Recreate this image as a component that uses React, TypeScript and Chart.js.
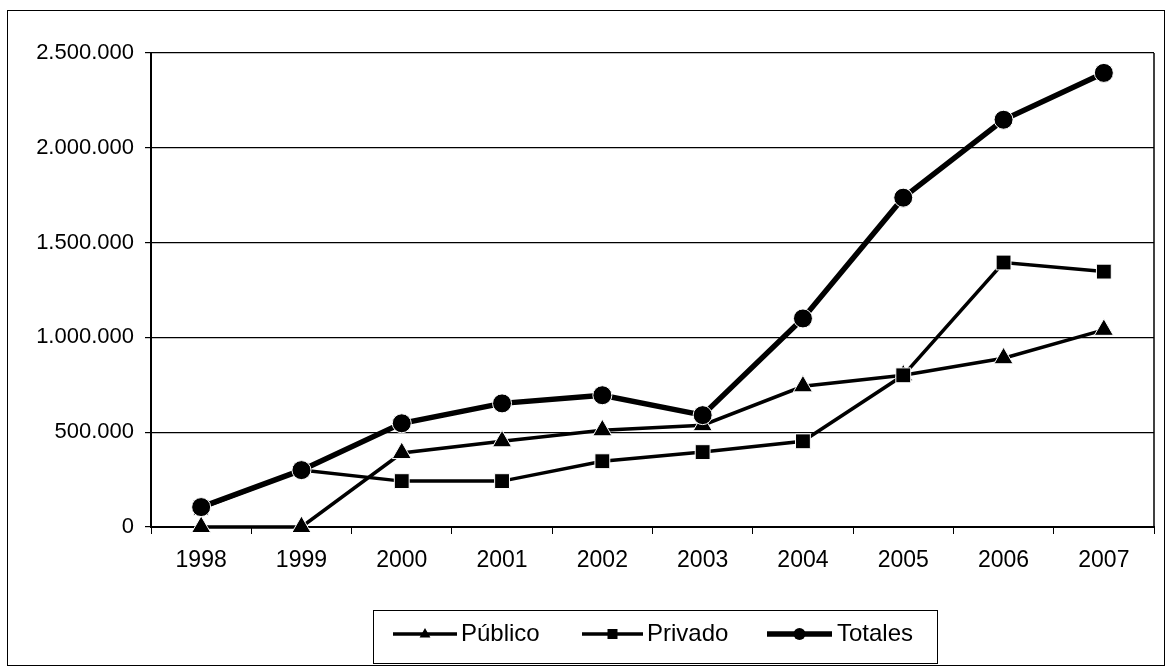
import React, { useEffect, useRef } from "react";
import { Chart, registerables } from "chart.js";

Chart.register(...registerables);

const years = ["1998", "1999", "2000", "2001", "2002", "2003", "2004", "2005", "2006", "2007"];
const publico = [0, 0, 390000, 452000, 510000, 537000, 742000, 800000, 890000, 1040000];
const privado = [100000, 300000, 242000, 242000, 347000, 395000, 452000, 800000, 1395000, 1347000];
const totales = [105000, 300000, 547000, 652000, 695000, 590000, 1100000, 1737000, 2148000, 2395000];
const legendLabels = ["Público", "Privado", "Totales"];

const FONT = "'Liberation Sans', Arial, sans-serif";

const fmt = (v: number) => String(Math.round(v)).replace(/\B(?=(\d{3})+(?!\d))/g, ".");

function marker(ctx: CanvasRenderingContext2D, style: string, x: number, y: number, s: number) {
  ctx.beginPath();
  if (style === "triangle") {
    ctx.moveTo(x, y - s);
    ctx.lineTo(x + s * 0.9, y + s * 0.6);
    ctx.lineTo(x - s * 0.9, y + s * 0.6);
    ctx.closePath();
  } else if (style === "rect") {
    ctx.rect(x - s, y - s, 2 * s, 2 * s);
  } else {
    ctx.arc(x, y, s, 0, Math.PI * 2);
  }
  ctx.fill();
}

const framePlugin = {
  id: "frame",
  beforeDraw(chart: any) {
    const ctx = chart.ctx;
    ctx.save();
    ctx.fillStyle = "#fff";
    ctx.fillRect(0, 0, chart.width, chart.height);
    ctx.strokeStyle = "#000";
    ctx.lineWidth = 1;
    ctx.strokeRect(7.5, 10.5, chart.width - 9, chart.height - 12);
    ctx.restore();
  },
  afterDraw(chart: any) {
    const ctx = chart.ctx;
    const a = chart.chartArea;
    ctx.save();
    ctx.strokeStyle = "#000";
    ctx.lineWidth = 1.5;
    ctx.beginPath();
    ctx.moveTo(a.right, a.top);
    ctx.lineTo(a.right, a.bottom);
    ctx.stroke();

    // legend
    const bx = 373, by = 610, bw = 564, bh = 53;
    ctx.lineWidth = 1;
    ctx.strokeRect(bx + 0.5, by + 0.5, bw, bh);
    const cy = 634;
    const items = [
      { x0: 393, x1: 457, style: "triangle", lw: 3.5, r: 6, tx: 461 },
      { x0: 582, x1: 643, style: "rect", lw: 3.5, r: 5, tx: 647 },
      { x0: 767, x1: 832, style: "circle", lw: 5.5, r: 6, tx: 837 },
    ];
    items.forEach((it, i) => {
      ctx.strokeStyle = "#000";
      ctx.lineWidth = it.lw;
      ctx.beginPath();
      ctx.moveTo(it.x0, cy);
      ctx.lineTo(it.x1, cy);
      ctx.stroke();
      ctx.fillStyle = "#000";
      marker(ctx, it.style, (it.x0 + it.x1) / 2, cy, it.r);
      ctx.font = `24px ${FONT}`;
      ctx.textBaseline = "middle";
      ctx.textAlign = "left";
      ctx.fillText(legendLabels[i], it.tx, cy);
    });
    ctx.restore();
  },
};

export default function App() {
  const ref = useRef<HTMLCanvasElement>(null);
  useEffect(() => {
    document.body.style.margin = "0";
    const ds = (label: string, data: number[], style: string, lw: number, r: number, order: number) => ({
      label,
      data,
      order,
      clip: false as any,
      borderColor: "#000",
      backgroundColor: "#000",
      borderWidth: lw,
      pointStyle: style,
      pointRadius: r,
      pointBorderColor: "#fff",
      pointBorderWidth: 1,
      pointBackgroundColor: "#000",
      tension: 0,
    });
    const chart = new Chart(ref.current!, {
      type: "line",
      data: {
        labels: years,
        datasets: [
          ds("Público", publico, "triangle", 3.5, 11, 2),
          ds("Privado", privado, "rect", 3.5, 10.5, 1),
          ds("Totales", totales, "circle", 5.5, 9.5, 0),
        ],
      },
      options: {
        animation: false,
        responsive: false,
        layout: { padding: { left: 0, right: 7, top: 53, bottom: 0 } },
        plugins: { legend: { display: false }, tooltip: { enabled: false } },
        scales: {
          x: {
            offset: true,
            grid: { offset: true, drawOnChartArea: false, color: "#000", tickLength: 7, lineWidth: 1 },
            border: { color: "#000", width: 2 },
            ticks: { color: "#000", font: { family: FONT, size: 23 }, padding: 13, maxRotation: 0 },
            afterFit: (s: any) => { s.height = 140; },
          },
          y: {
            min: 0,
            max: 2500000,
            ticks: { stepSize: 500000, color: "#000", font: { family: FONT, size: 22 }, padding: 11, callback: (v: any) => fmt(Number(v)) },
            grid: { color: "#000", lineWidth: 1.2, tickLength: 6 },
            border: { color: "#000", width: 2 },
            afterFit: (s: any) => { s.width = 151; },
          },
        },
      },
      plugins: [framePlugin],
    });
    return () => chart.destroy();
  }, []);
  return (
    <div style={{ position: "fixed", left: 0, top: 0, width: 1166, height: 667 }}>
      <canvas ref={ref} width={1166} height={667} style={{ width: 1166, height: 667 }} />
    </div>
  );
}
